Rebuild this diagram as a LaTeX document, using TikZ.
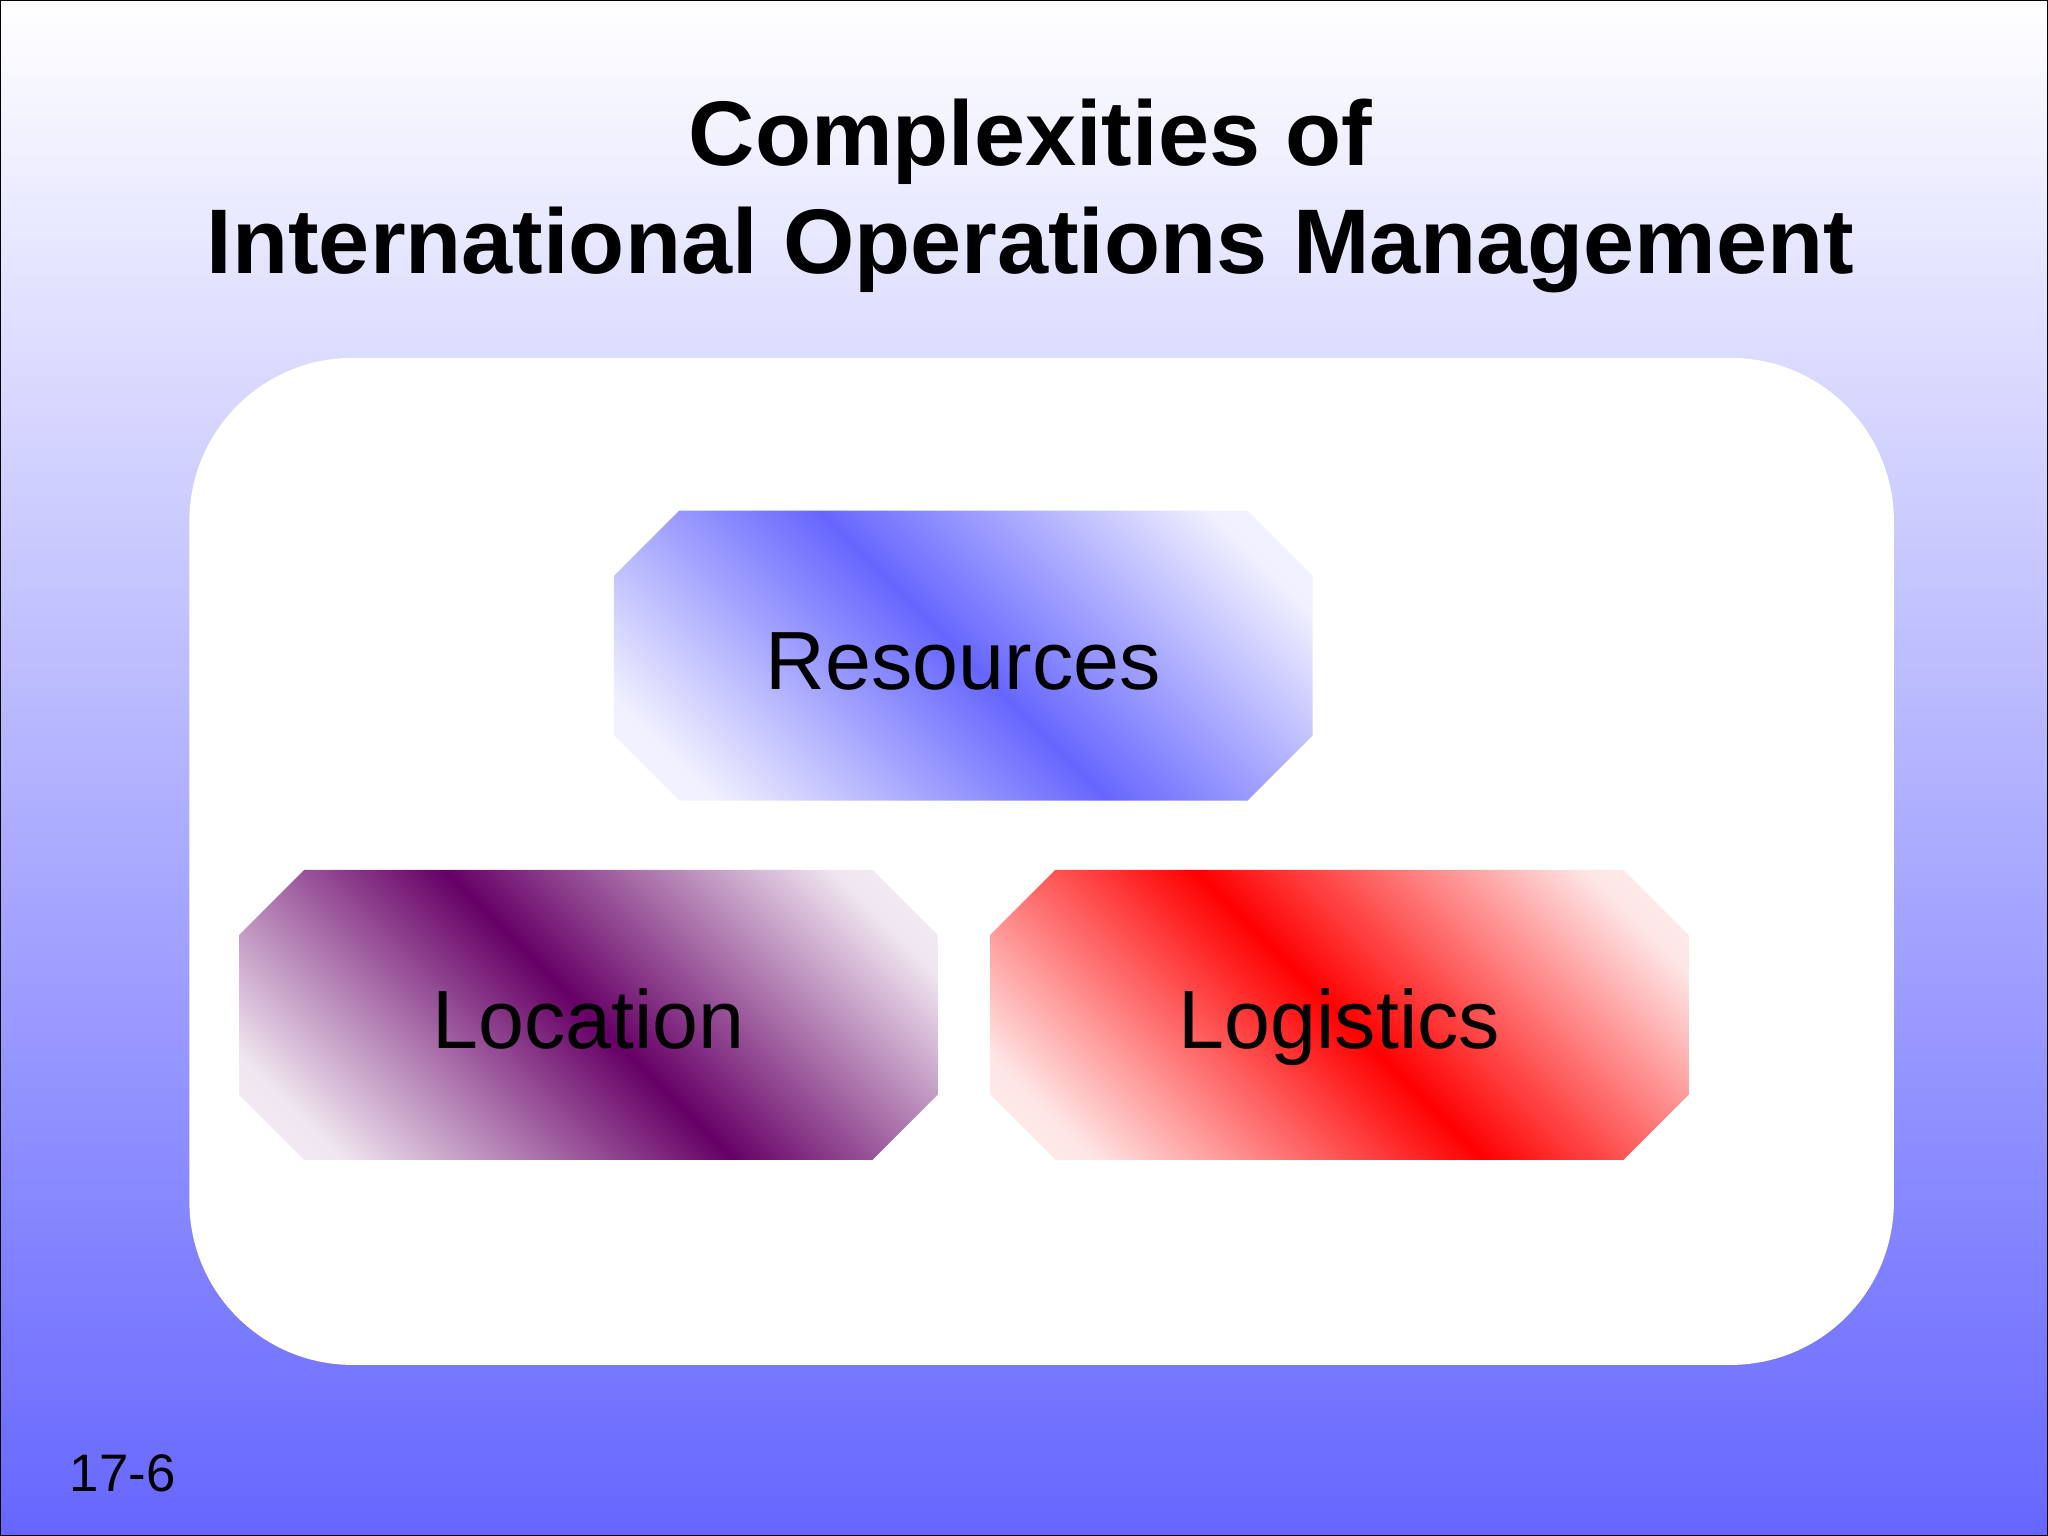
\documentclass[tikz,border=0pt]{standalone}
\usepackage{fontspec}
\setmainfont{Liberation Sans}
\definecolor{bgblue}{RGB}{102,102,255}
\definecolor{resblue}{RGB}{102,102,255}
\definecolor{locpur}{RGB}{102,0,102}
\definecolor{logred}{RGB}{255,0,0}
\pgfdeclarehorizontalshading{shres}{100bp}{color(0bp)=(white); color(22bp)=(resblue!10); color(50bp)=(resblue); color(78bp)=(resblue!10); color(100bp)=(white)}
\pgfdeclarehorizontalshading{shloc}{100bp}{color(0bp)=(white); color(22bp)=(locpur!10); color(50bp)=(locpur); color(78bp)=(locpur!10); color(100bp)=(white)}
\pgfdeclarehorizontalshading{shlog}{100bp}{color(0bp)=(white); color(22bp)=(logred!10); color(50bp)=(logred); color(78bp)=(logred!10); color(100bp)=(white)}
\begin{document}
\begin{tikzpicture}[x=0.02cm,y=-0.02cm,
  lbl/.style={font=\fontsize{36}{40}\selectfont,anchor=base}]
\useasboundingbox (0,0) rectangle (1568,1176);
\shade[top color=white,bottom color=bgblue,draw=black,line width=0.8pt] (0,0) rectangle (1568,1176);
\node[font=\fontsize{40}{47}\selectfont\bfseries,align=center] (title) at (789,150) {Complexities of\\International Operations Management};
\fill[white,rounded corners=2.5cm] (145,274) rectangle (1450,1045);
\newcommand\octagon[5]{%
  \shade[shading=#5,shading angle=45] (#1+50,#2) -- (#3-50,#2) -- (#3,#2+50) -- (#3,#4-50) -- (#3-50,#4) -- (#1+50,#4) -- (#1,#4-50) -- (#1,#2+50) -- cycle;}
\octagon{470}{391}{1005}{613}{shres}
\octagon{183}{666}{718}{888}{shloc}
\octagon{758}{666}{1293}{888}{shlog}
\node[lbl] (res) at (737.5,528) {Resources};
\node[lbl] (loc) at (450.5,803) {Location};
\node[lbl] (log) at (1025.5,803) {Logistics};
\node[font=\fontsize{23}{28}\selectfont] (num) at (94,1128) {17-6};
\end{tikzpicture}
\end{document}
